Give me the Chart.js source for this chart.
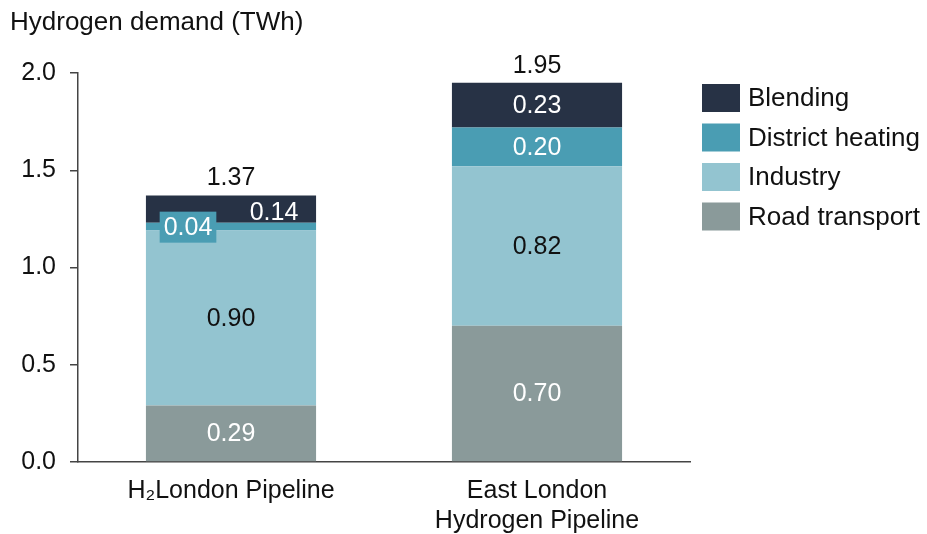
<!DOCTYPE html>
<html>
<head>
<meta charset="utf-8">
<script src="https://cdn.jsdelivr.net/npm/chart.js@4.4.0/dist/chart.umd.min.js"></script>
<style>
  html, body { margin: 0; padding: 0; background: #fff; }
  #wrap { width: 927px; height: 534px; position: relative; }
</style>
</head>
<body>
<div id="wrap"><canvas id="chart" width="927" height="534"></canvas></div>
<script>
// données
const categories = ['H\u2082London Pipeline', ['East London', 'Hydrogen Pipeline']];
const roadTransport = [0.29, 0.70];
const industry = [0.90, 0.82];
const districtHeating = [0.04, 0.20];
const blending = [0.14, 0.23];
const totals = [1.37, 1.95];
const yTicks = [0, 0.5, 1.0, 1.5, 2.0];

const FONT = '"Liberation Sans", Arial, sans-serif';
const colours = {
  road: '#8a9a9a',
  industry: '#93c4d0',
  district: '#4a9db3',
  blending: '#273245'
};

const datasets = [
  { label: 'Road transport', data: roadTransport, backgroundColor: colours.road, labelColor: '#fff' },
  { label: 'Industry', data: industry, backgroundColor: colours.industry, labelColor: '#111' },
  { label: 'District heating', data: districtHeating, backgroundColor: colours.district, labelColor: '#fff' },
  { label: 'Blending', data: blending, backgroundColor: colours.blending, labelColor: '#fff' }
];
datasets.forEach(d => {
  d.barPercentage = 0.556;
  d.categoryPercentage = 1;
});

// étiquettes des segments + totaux
const labelPlugin = {
  id: 'labels',
  afterDatasetsDraw(chart) {
    const ctx = chart.ctx;
    ctx.save();
    ctx.font = '25px ' + FONT;
    ctx.textAlign = 'center';
    ctx.textBaseline = 'middle';
    chart.data.datasets.forEach((ds, i) => {
      const meta = chart.getDatasetMeta(i);
      meta.data.forEach((bar, j) => {
        const v = ds.data[j];
        const txt = v.toFixed(2);
        let x = bar.x;
        let y = (bar.y + bar.base) / 2;
        // petits segments du premier bâton : étiquettes décalées
        if (j === 0 && ds.label === 'District heating') {
          x = bar.x - 43;
          const w = ctx.measureText(txt).width + 8;
          ctx.fillStyle = ds.backgroundColor;
          ctx.fillRect(x - w / 2, y - 15, w, 31);
        }
        if (j === 0 && ds.label === 'Blending') {
          x = bar.x + 43;
          y = y + 3;
        }
        ctx.fillStyle = ds.labelColor;
        ctx.fillText(txt, x, y + 1);
      });
    });
    // totaux
    const top = chart.getDatasetMeta(chart.data.datasets.length - 1);
    top.data.forEach((bar, j) => {
      ctx.fillStyle = '#111';
      ctx.fillText(totals[j].toFixed(2), bar.x, bar.y - 17);
    });
    ctx.restore();
  }
};

// titre de l'axe et légende dessinés à la main
const extrasPlugin = {
  id: 'extras',
  afterDraw(chart) {
    const ctx = chart.ctx;
    ctx.save();
    ctx.fillStyle = '#111';
    ctx.font = '26px ' + FONT;
    ctx.textAlign = 'left';
    ctx.textBaseline = 'middle';
    ctx.fillText('Hydrogen demand (TWh)', 10, 23);

    const order = [3, 2, 1, 0];
    order.forEach((idx, k) => {
      const ds = chart.data.datasets[idx];
      const y = 84 + k * 39.5;
      ctx.fillStyle = ds.backgroundColor;
      ctx.fillRect(702, y, 38, 28);
      ctx.fillStyle = '#111';
      ctx.font = '26px ' + FONT;
      ctx.fillText(ds.label, 748, y + 15);
    });
    ctx.restore();
  }
};

new Chart(document.getElementById('chart'), {
  type: 'bar',
  data: { labels: categories, datasets: datasets },
  options: {
    responsive: false,
    animation: false,
    layout: { padding: { left: 0, top: 73, right: 237, bottom: 0 } },
    plugins: {
      legend: { display: false },
      tooltip: { enabled: false }
    },
    scales: {
      x: {
        stacked: true,
        grid: { display: false },
        border: { display: true, color: '#444', width: 1.5 },
        ticks: { color: '#111', font: { family: FONT, size: 25, lineHeight: 1.2 }, padding: 6, maxRotation: 0 },
        afterFit(scale) { scale.height = 72; }
      },
      y: {
        stacked: true,
        min: 0,
        max: 2,
        afterBuildTicks(scale) { scale.ticks = yTicks.map(v => ({ value: v })); },
        grid: { drawOnChartArea: false, drawTicks: true, tickLength: 8, color: '#444', lineWidth: 1.5 },
        border: { display: true, color: '#444', width: 1.5 },
        ticks: {
          color: '#111',
          font: { family: FONT, size: 25 },
          padding: 14,
          callback: v => Number(v).toFixed(1)
        },
        afterFit(scale) { scale.width = 78; }
      }
    }
  },
  plugins: [labelPlugin, extrasPlugin]
});
</script>
</body>
</html>
